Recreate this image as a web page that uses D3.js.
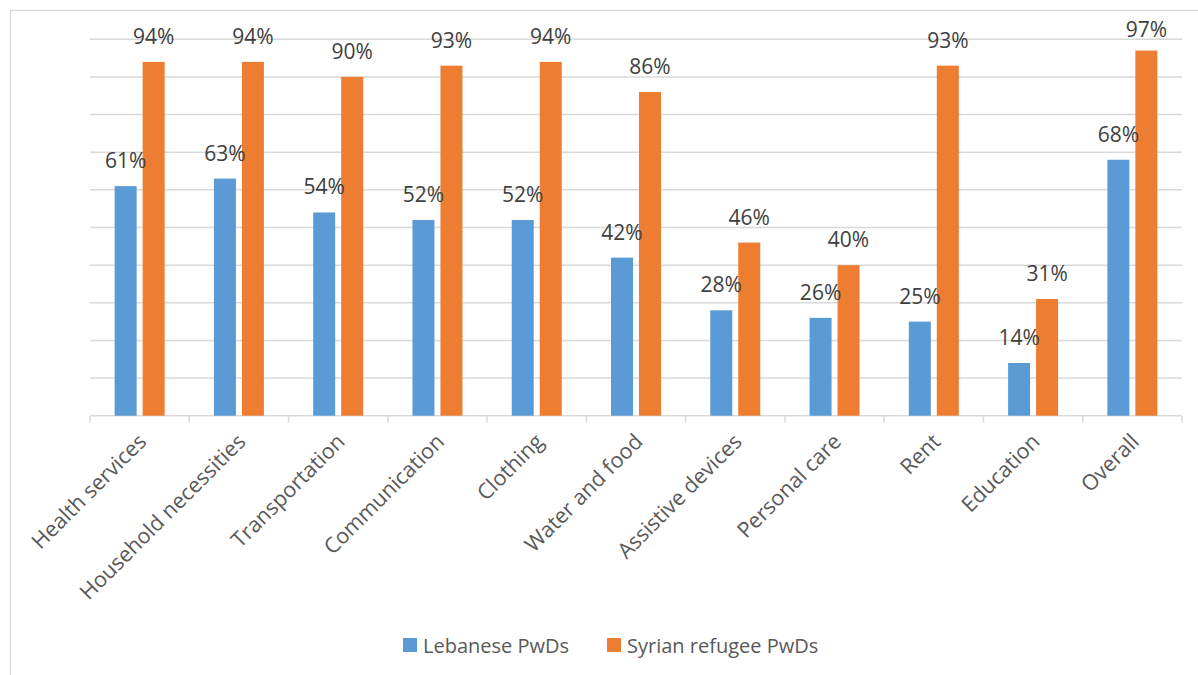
<!DOCTYPE html>
<html>
<head>
<meta charset="utf-8">
<script src="https://cdn.jsdelivr.net/npm/d3@7"></script>
<style>
  html, body { margin: 0; padding: 0; background: #ffffff; }
  svg { display: block; font-family: "Open Sans", "DejaVu Sans", sans-serif; }
</style>
</head>
<body>
<svg id="chart" width="1198" height="675"></svg>
<script>
// Share of persons with disabilities reporting unmet needs, by category
const categories = [
  "Health services", "Household necessities", "Transportation", "Communication",
  "Clothing", "Water and food", "Assistive devices", "Personal care",
  "Rent", "Education", "Overall"
];
const seriesNames = ["Lebanese PwDs", "Syrian refugee PwDs"];
const lebaneseValues = [0.61, 0.63, 0.54, 0.52, 0.52, 0.42, 0.28, 0.26, 0.25, 0.14, 0.68];
const syrianValues   = [0.94, 0.94, 0.90, 0.93, 0.94, 0.86, 0.46, 0.40, 0.93, 0.31, 0.97];
const gridTicks = [0.1, 0.2, 0.3, 0.4, 0.5, 0.6, 0.7, 0.8, 0.9, 1.0];

const colors = { "Lebanese PwDs": "#5B9BD5", "Syrian refugee PwDs": "#ED7D31" };
const valuesBySeries = { "Lebanese PwDs": lebaneseValues, "Syrian refugee PwDs": syrianValues };

const svg = d3.select("#chart");
const plot = { left: 90, right: 1182, top: 39.3, bottom: 415.7 };

// Outer chart frame (extends past the right and bottom edges)
svg.append("rect")
  .attr("x", 10.5).attr("y", 10.5)
  .attr("width", 1250).attr("height", 720)
  .attr("fill", "none").attr("stroke", "#d9d9d9").attr("stroke-width", 1.3);

const x0 = d3.scaleBand().domain(categories).range([plot.left, plot.right]).padding(0);
const x1 = d3.scaleBand().domain(seriesNames).range([-25, 25]).paddingInner(0.214).paddingOuter(0);
const y = d3.scaleLinear().domain([0, 1]).range([plot.bottom, plot.top]);

// Horizontal gridlines
svg.append("g")
  .selectAll("line")
  .data(gridTicks)
  .join("line")
  .attr("x1", plot.left).attr("x2", plot.right)
  .attr("y1", d => y(d)).attr("y2", d => y(d))
  .attr("stroke", "#d9d9d9").attr("stroke-width", 1.5);

// Category axis with tick marks between groups
const xAxisG = svg.append("g");
xAxisG.append("line")
  .attr("x1", plot.left).attr("x2", plot.right)
  .attr("y1", y(0)).attr("y2", y(0))
  .attr("stroke", "#d9d9d9").attr("stroke-width", 1.5);
const boundaries = categories.map(c => x0(c)).concat([x0(categories[categories.length - 1]) + x0.bandwidth()]);
xAxisG.selectAll("line.tick")
  .data(boundaries)
  .join("line")
  .attr("class", "tick")
  .attr("x1", d => d).attr("x2", d => d)
  .attr("y1", y(0)).attr("y2", y(0) + 7)
  .attr("stroke", "#d9d9d9").attr("stroke-width", 1.5);

// Bars
const rows = categories.map((c, i) => ({
  category: c,
  items: seriesNames.map(s => ({ series: s, value: valuesBySeries[s][i], category: c }))
}));

const groups = svg.append("g")
  .selectAll("g")
  .data(rows)
  .join("g")
  .attr("transform", d => `translate(${x0(d.category) + x0.bandwidth() / 2},0)`);

groups.selectAll("rect")
  .data(d => d.items)
  .join("rect")
  .attr("x", d => x1(d.series))
  .attr("width", x1.bandwidth())
  .attr("y", d => y(d.value))
  .attr("height", d => y(0) - y(d.value))
  .attr("fill", d => colors[d.series]);

// Value labels above the bars, kept inside the plot area
const labelTopLimit = 36.5;
groups.selectAll("text")
  .data(d => d.items)
  .join("text")
  .attr("x", d => x1(d.series) + x1.bandwidth() / 2)
  .attr("y", d => Math.max(y(d.value) - 18, labelTopLimit))
  .attr("text-anchor", "middle")
  .attr("font-size", "21px")
  .attr("fill", "#404040")
  .text(d => Math.round(d.value * 100) + "%");

// Rotated category labels
svg.append("g")
  .selectAll("text")
  .data(categories)
  .join("text")
  .attr("transform", d => `translate(${x0(d) + x0.bandwidth() / 2 + 8},443) rotate(-45)`)
  .attr("text-anchor", "end")
  .attr("font-size", "21.5px")
  .attr("fill", "#595959")
  .text(d => d);

// Legend
const legendItems = [
  { name: seriesNames[0], x: 403 },
  { name: seriesNames[1], x: 607 }
];
const legend = svg.append("g")
  .selectAll("g")
  .data(legendItems)
  .join("g")
  .attr("transform", d => `translate(${d.x},638)`);
legend.append("rect")
  .attr("width", 14).attr("height", 14)
  .attr("fill", d => colors[d.name]);
legend.append("text")
  .attr("x", 20).attr("y", 14.5)
  .attr("font-size", "20px")
  .attr("fill", "#595959")
  .text(d => d.name);
</script>
</body>
</html>
